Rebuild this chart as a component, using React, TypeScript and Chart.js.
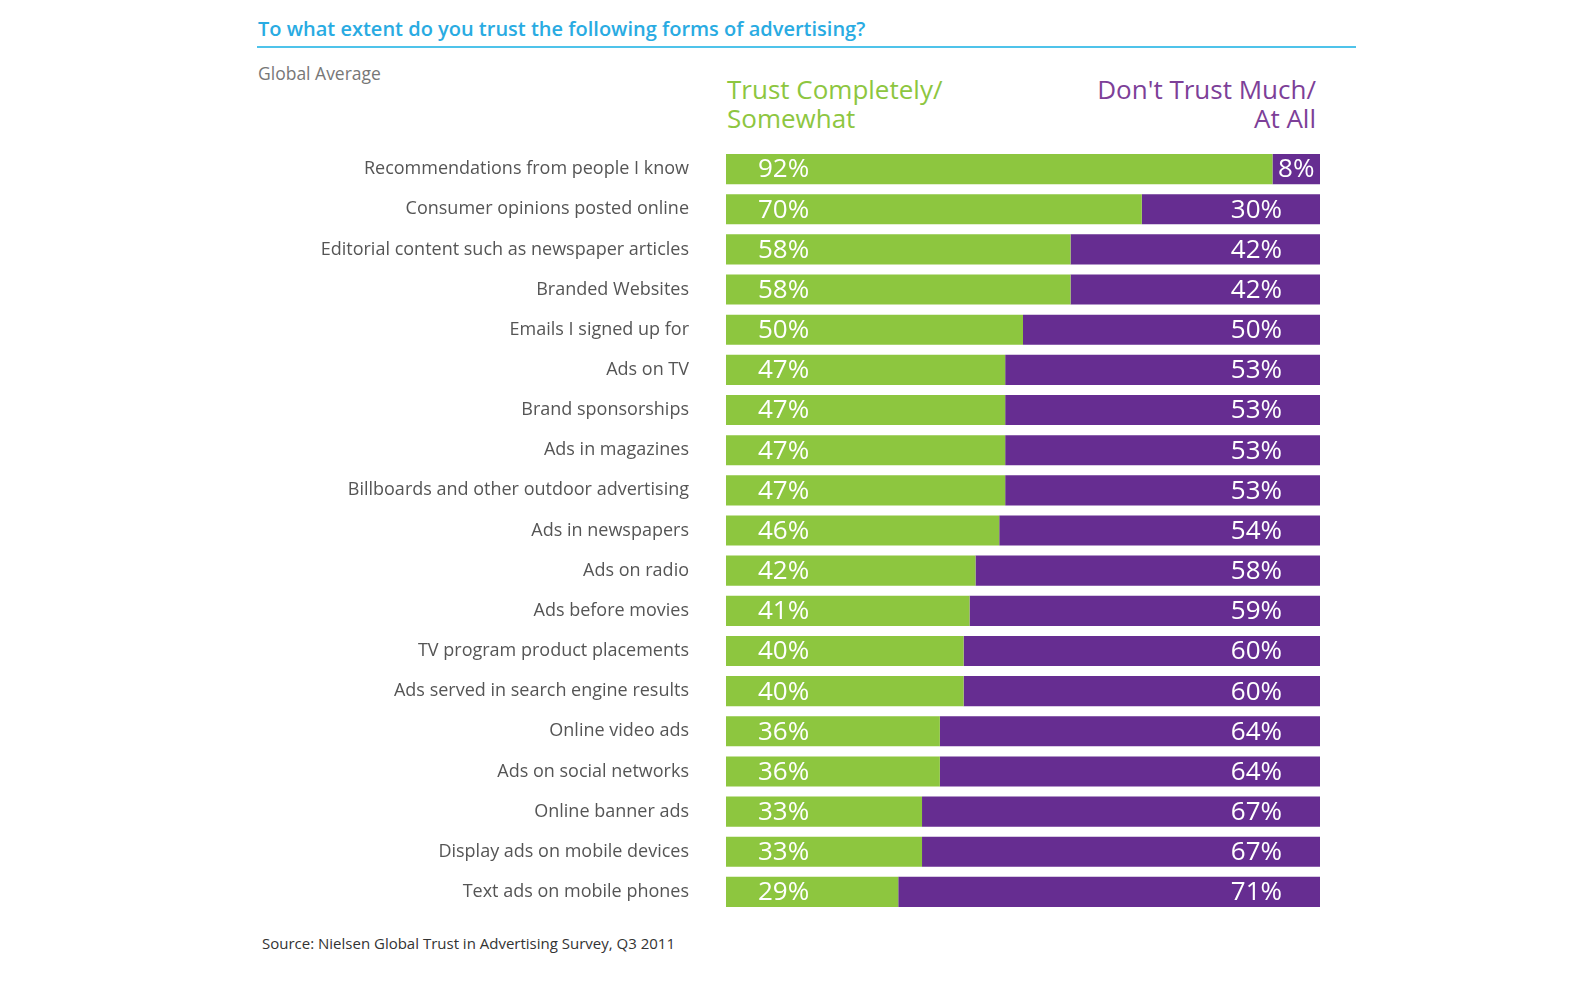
import { useEffect, useRef } from 'react';
import { Chart, registerables } from 'chart.js';

Chart.register(...registerables);

const categories = [
  'Recommendations from people I know',
  'Consumer opinions posted online',
  'Editorial content such as newspaper articles',
  'Branded Websites',
  'Emails I signed up for',
  'Ads on TV',
  'Brand sponsorships',
  'Ads in magazines',
  'Billboards and other outdoor advertising',
  'Ads in newspapers',
  'Ads on radio',
  'Ads before movies',
  'TV program product placements',
  'Ads served in search engine results',
  'Online video ads',
  'Ads on social networks',
  'Online banner ads',
  'Display ads on mobile devices',
  'Text ads on mobile phones',
];

const trust = [92, 70, 58, 58, 50, 47, 47, 47, 47, 46, 42, 41, 40, 40, 36, 36, 33, 33, 29];
const distrust = [8, 30, 42, 42, 50, 53, 53, 53, 53, 54, 58, 59, 60, 60, 64, 64, 67, 67, 71];

const GREEN = '#8dc63f';
const PURPLE = '#662d91';
const FONT = '"Open Sans", "Noto Sans", sans-serif';

// draws the white percentage labels inside the bars
const barLabels = {
  id: 'barLabels',
  afterDatasetsDraw(chart: Chart) {
    const ctx = chart.ctx;
    ctx.save();
    ctx.fillStyle = '#ffffff';
    ctx.font = `26px ${FONT}`;
    ctx.textBaseline = 'middle';
    chart.data.datasets.forEach((ds, di) => {
      const meta = chart.getDatasetMeta(di);
      meta.data.forEach((el: any, i) => {
        const text = `${ds.data[i]}%`;
        const left = Math.min(el.x, el.base);
        const right = Math.max(el.x, el.base);
        if (di === 0) {
          ctx.textAlign = 'left';
          ctx.fillText(text, left + 32, el.y + 1);
        } else {
          const tw = ctx.measureText(text).width;
          const off = Math.min(38, Math.max(3, (right - left - tw) / 2));
          ctx.textAlign = 'right';
          ctx.fillText(text, right - off, el.y + 1);
        }
      });
    });
    ctx.restore();
  },
};

export default function App() {
  const canvasRef = useRef<HTMLCanvasElement>(null);
  const chartRef = useRef<Chart | null>(null);

  useEffect(() => {
    if (!canvasRef.current) return;
    if (chartRef.current) chartRef.current.destroy();

    chartRef.current = new Chart(canvasRef.current, {
      type: 'bar',
      data: {
        labels: categories,
        datasets: [
          { label: 'Trust Completely/Somewhat', data: trust, backgroundColor: GREEN },
          { label: "Don't Trust Much/At All", data: distrust, backgroundColor: PURPLE },
        ],
      },
      options: {
        indexAxis: 'y',
        animation: false,
        responsive: false,
        maintainAspectRatio: false,
        layout: { padding: 0 },
        datasets: {
          bar: { barPercentage: 0.75, categoryPercentage: 1 },
        },
        scales: {
          x: { stacked: true, min: 0, max: 100, display: false },
          y: {
            stacked: true,
            grid: { display: false, drawTicks: false },
            border: { display: false },
            ticks: {
              color: '#555555',
              padding: 37,
              font: { family: FONT, size: 18 },
            },
            afterFit(scale: any) {
              // fixed axis width, and no extra vertical padding from the tick labels
              scale.width = 476;
              scale.paddingTop = 0;
              scale.paddingBottom = 0;
            },
          },
        },
        plugins: {
          legend: { display: false },
          tooltip: { enabled: false },
        },
      },
      plugins: [barLabels],
    });

    return () => {
      if (chartRef.current) {
        chartRef.current.destroy();
        chartRef.current = null;
      }
    };
  }, []);

  return (
    <div style={{ position: 'fixed', left: 0, top: 0, width: 1580, height: 988, background: '#fff', fontFamily: FONT }}>
      <div style={{ position: 'absolute', left: 258, top: 15, fontSize: 20, fontWeight: 600, color: '#29abe2', whiteSpace: 'nowrap' }}>
        To what extent do you trust the following forms of advertising?
      </div>
      <div style={{ position: 'absolute', left: 257, top: 46, width: 1099, height: 2, background: '#4fc3ea' }} />
      <div style={{ position: 'absolute', left: 258, top: 61, fontSize: 17.5, color: '#777', whiteSpace: 'nowrap' }}>
        Global Average
      </div>
      <div style={{ position: 'absolute', left: 727, top: 75, fontSize: 26, lineHeight: '29px', color: '#8dc63f', whiteSpace: 'nowrap' }}>
        Trust Completely/<br />Somewhat
      </div>
      <div style={{ position: 'absolute', right: 1580 - 1316, top: 75, fontSize: 26, lineHeight: '29px', color: '#7d3f98', textAlign: 'right', whiteSpace: 'nowrap' }}>
        Don't Trust Much/<br />At All
      </div>
      <canvas ref={canvasRef} width={1070} height={763} style={{ position: 'absolute', left: 250, top: 149, width: 1070, height: 763 }} />
      <div style={{ position: 'absolute', left: 262, top: 933, fontSize: 15, color: '#333', whiteSpace: 'nowrap' }}>
        Source: Nielsen Global Trust in Advertising Survey, Q3 2011
      </div>
    </div>
  );
}
